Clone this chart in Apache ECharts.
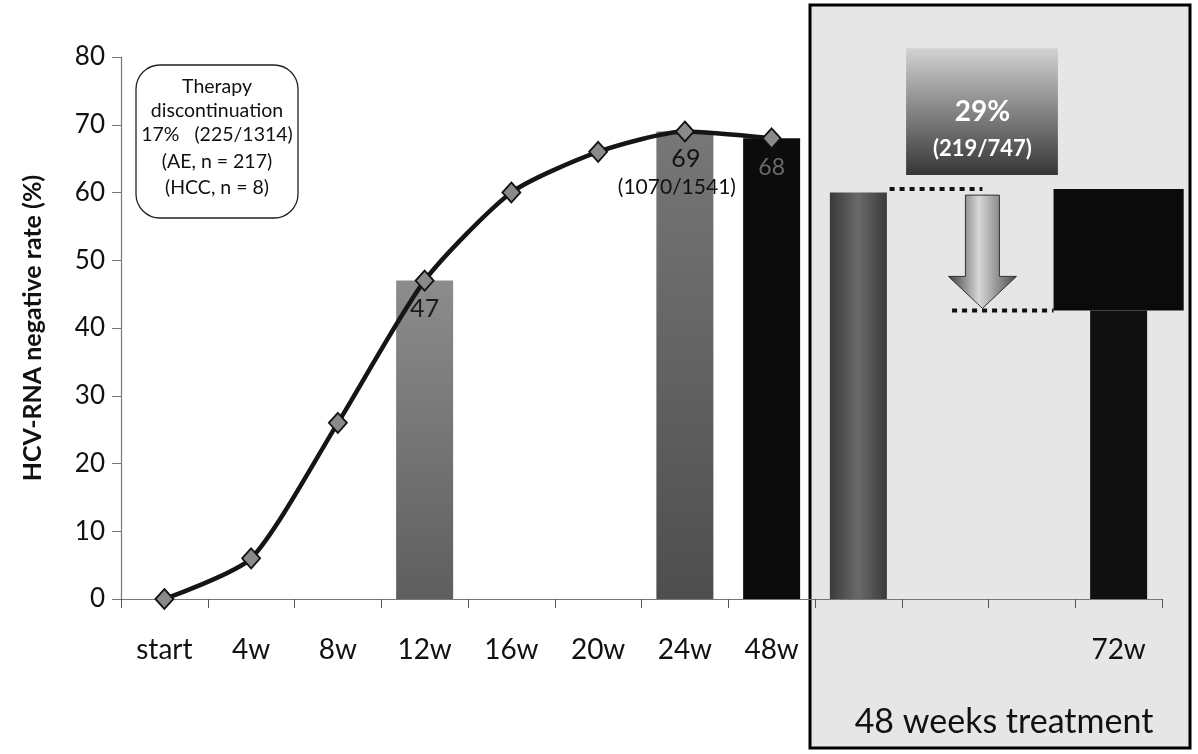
<!DOCTYPE html>
<html><head><meta charset="utf-8">
<script src="https://cdn.jsdelivr.net/npm/echarts/dist/echarts.min.js"></script>
<style>html,body{margin:0;padding:0;background:#fff}#c{width:1198px;height:754px}</style>
</head><body><div id="c"></div>
<script>
// ---- data ----
const categories = ['start','4w','8w','12w','16w','20w','24w','48w','','','','72w'];
const lineValues = [0, 6, 26, 47, 60, 66, 69, 68, null, null, null, null];
const barValues = [null, null, null, 47, null, null, 69, 68, 60, null, null, 42.6];
const relapseIndex = 11;
const relapseRange = [42.6, 60.5];
const relapseBox = [62.6, 81.3];
const relapseText = ['29%', '(219/747)'];
const bar24Text = ['69', '(1070/1541)'];
const bar12Text = '47';
const bar48Text = '68';
const discontinuationText = ['Therapy', 'discontinuation', '17%   (225/1314)', '(AE, n = 217)', '(HCC, n = 8)'];
const yMin = 0, yMax = 80, yInterval = 10;
const boxTitle = '48 weeks treatment';
const yName = 'HCV-RNA negative rate (%)';

// ---- styles ----
const FONT = 'Lato, "Open Sans", sans-serif';
function vgrad(a, b) { return new echarts.graphic.LinearGradient(0, 0, 0, 1, [{offset: 0, color: a}, {offset: 1, color: b}]); }
function hgrad(a, b, c) { return new echarts.graphic.LinearGradient(0, 0, 1, 0, [{offset: 0, color: a}, {offset: 0.5, color: b}, {offset: 1, color: c}]); }
const barStyles = {
  3: {color: vgrad('#8c8c8c', '#5e5e5e')},
  6: {color: vgrad('#777777', '#4e4e4e')},
  7: {color: '#0c0c0c'},
  8: {color: hgrad('#3a3a3a', '#6a6a6a', '#3a3a3a')},
  11: {color: '#101010'}
};
const barLabels = {
  3: {show: true, position: 'insideTop', distance: 16, formatter: bar12Text, fontSize: 25, color: '#1a1a1a', fontFamily: FONT},
  6: {show: true, position: 'insideTop', distance: 13, formatter: '{a|' + bar24Text[0] + '}\n{b|' + bar24Text[1] + '}', offset: [-8, 0], fontFamily: FONT,
      rich: {a: {fontSize: 25, color: '#111', lineHeight: 29, fontFamily: FONT, padding: [0, 0, 0, 18]}, b: {fontSize: 21, color: '#111', lineHeight: 27, fontFamily: FONT}}},
  7: {show: true, position: 'insideTop', distance: 18, formatter: bar48Text, fontSize: 23, color: '#6a6a6a', fontFamily: FONT}
};
const barData = barValues.map((v, i) => v == null ? null : {value: v, itemStyle: barStyles[i] || {}, label: barLabels[i] || {show: false}});

const chart = echarts.init(document.getElementById('c'), null, {renderer: 'canvas'});

const annotation = {
  type: 'custom',
  clip: false,
  z: 4,
  data: [[relapseIndex, relapseRange[0], relapseRange[1], relapseBox[0], relapseBox[1]]],
  renderItem: function (params, api) {
    const idx = api.value(0);
    const bw = api.size([1, 0])[0];
    const lo = api.coord([idx, api.value(1)]);
    const hi = api.coord([idx, api.value(2)]);
    const c8 = api.coord([idx - 3, api.value(2)]);
    const c9 = api.coord([idx - 2, api.value(1)]);
    const bTop = api.coord([idx - 2, api.value(4)]);
    const bBot = api.coord([idx - 2, api.value(3)]);
    const ax = c9[0] + 0.43 * bw;       // arrow center
    const yTop = hi[1], yLo = lo[1];
    const children = [];
    // relapse floating block
    children.push({type: 'rect', shape: {x: lo[0] - 0.75 * bw, y: yTop, width: 1.5 * bw, height: yLo - yTop}, style: {fill: '#0b0b0b'}});
    // dotted guides
    children.push({type: 'line', shape: {x1: c8[0] + 0.36 * bw, y1: yTop, x2: ax, y2: yTop}, style: {stroke: '#111', lineWidth: 4, lineDash: [5, 5]}});
    children.push({type: 'line', shape: {x1: ax - 0.35 * bw, y1: yLo, x2: lo[0] - 0.75 * bw, y2: yLo}, style: {stroke: '#111', lineWidth: 4, lineDash: [5, 5]}});
    // arrow
    const sw = 17, hw = 34, headTop = yLo - 34;
    children.push({type: 'polygon', shape: {points: [
      [ax - sw, yTop + 6], [ax + sw, yTop + 6], [ax + sw, headTop], [ax + hw, headTop], [ax, yLo - 2], [ax - hw, headTop], [ax - sw, headTop]
    ]}, style: {fill: new echarts.graphic.LinearGradient(0, 0, 1, 0, [{offset: 0, color: '#3c3c3c'}, {offset: 0.45, color: '#d8d8d8'}, {offset: 1, color: '#4a4a4a'}]), stroke: '#333', lineWidth: 1}});
    // 29% box
    const bx = ax - 0.88 * bw, bW = 1.75 * bw;
    children.push({type: 'rect', shape: {x: bx, y: bTop[1], width: bW, height: bBot[1] - bTop[1]}, style: {fill: vgrad('#d2d2d2', '#363636')}});
    children.push({type: 'text', style: {text: relapseText[0], x: ax, y: bTop[1] + 64, align: 'center', verticalAlign: 'middle', fill: '#fff', font: 'bold 28px ' + FONT}});
    children.push({type: 'text', style: {text: relapseText[1], x: ax, y: bTop[1] + 101, align: 'center', verticalAlign: 'middle', fill: '#fff', font: 'bold 22px ' + FONT}});
    return {type: 'group', children: children};
  }
};

const therapyChildren = [
  {type: 'rect', shape: {x: 136, y: 65, width: 162, height: 153, r: 24}, style: {fill: '#fff', stroke: '#222', lineWidth: 1.3}}
];
discontinuationText.forEach((t, i) => {
  therapyChildren.push({type: 'text', style: {text: t, x: 217, y: [87, 111, 135, 162, 188][i], align: 'center', verticalAlign: 'middle', fill: '#111', font: '19.5px ' + FONT}});
});

chart.setOption({
  animation: false,
  backgroundColor: '#fff',
  grid: {left: 121, right: 36, top: 57, bottom: 155, containLabel: false},
  xAxis: {
    type: 'category', data: categories, boundaryGap: true,
    axisLine: {lineStyle: {color: '#777', width: 1.2}},
    axisTick: {show: true, length: 9, lineStyle: {color: '#555'}},
    axisLabel: {margin: 37, fontSize: 28, color: '#111', fontFamily: FONT, interval: 0}
  },
  yAxis: {
    type: 'value', min: yMin, max: yMax, interval: yInterval,
    name: yName, nameLocation: 'middle', nameGap: 76, nameRotate: 90,
    nameTextStyle: {fontSize: 25, fontWeight: 'bold', color: '#111', fontFamily: FONT},
    axisLine: {show: true, lineStyle: {color: '#777', width: 1.2}},
    axisTick: {show: true, length: 9, lineStyle: {color: '#777'}},
    splitLine: {show: false},
    axisLabel: {margin: 16, fontSize: 26, color: '#111', fontFamily: FONT}
  },
  graphic: [
    {type: 'rect', z: -10, shape: {x: 810, y: 5, width: 380, height: 743}, style: {fill: '#e6e6e6', stroke: '#000', lineWidth: 3}},
    {type: 'text', z: 10, style: {text: boxTitle, x: 1004, y: 722, align: 'center', verticalAlign: 'middle', fill: '#111', font: '34px ' + FONT}},
    {type: 'group', z: 10, children: therapyChildren}
  ],
  series: [
    {type: 'bar', data: barData, barWidth: 57, z: 2},
    {type: 'line', data: lineValues, smooth: 0.22, z: 5,
     symbol: 'diamond', symbolSize: [18, 20],
     lineStyle: {color: '#151515', width: 4.5},
     itemStyle: {color: '#8a8a8a', borderColor: '#111', borderWidth: 1.8}},
    annotation
  ]
});
</script></body></html>
